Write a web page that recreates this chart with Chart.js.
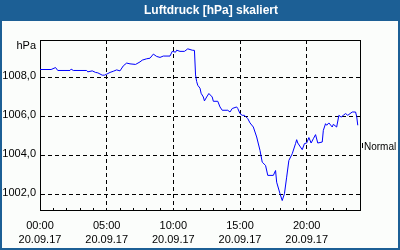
<!DOCTYPE html>
<html>
<head>
<meta charset="utf-8">
<script src="https://cdn.jsdelivr.net/npm/chart.js@4.4.1/dist/chart.umd.min.js"></script>
<style>
  html, body { margin: 0; padding: 0; background: #fbfdfb; }
  #chart { display: block; }
</style>
</head>
<body>
<canvas id="chart" width="400" height="250"></canvas>
<script>
// Luftdruck vom 20.09.17
const titel = 'Luftdruck [hPa] skaliert';
const datum = '20.09.17';

const zeiten = [
  '00:00', '00:50', '01:10', '01:20', '02:15', '02:20', '02:30', '03:30', '03:35', '03:55',
  '04:10', '04:20', '04:40', '04:50', '05:00', '05:15', '05:30', '05:45', '06:00', '06:15',
  '06:30', '06:45', '07:10', '07:30', '07:40', '08:00', '08:15', '08:30', '08:45', '09:00',
  '09:15', '09:45', '09:55', '10:10', '10:15', '10:30', '10:50', '11:05', '11:25', '11:35',
  '11:40', '11:45', '11:50', '12:00', '12:05', '12:15', '12:20', '12:30', '12:40', '12:55',
  '13:00', '13:20', '13:30', '13:40', '14:05', '14:15', '14:25', '14:45', '14:50', '15:00',
  '15:10', '15:20', '15:35', '15:45', '16:00', '16:15', '16:30', '16:40', '16:55', '17:05',
  '17:30', '17:40', '17:45', '18:00', '18:10', '18:20', '18:30', '18:40', '18:55', '19:10',
  '19:15', '19:20', '19:40', '19:50', '20:00', '20:10', '20:20', '20:30', '20:40', '20:50',
  '21:10', '21:15', '21:25', '21:30', '21:40', '21:55', '22:00', '22:15', '22:25', '22:35',
  '22:45', '22:55', '23:05', '23:25', '23:40', '23:45', '23:50'
];
const luftdruck = [
  1008.41, 1008.41, 1008.51, 1008.36, 1008.36, 1008.43, 1008.36, 1008.36, 1008.29, 1008.34,
  1008.26, 1008.24, 1008.12, 1008.12, 1008.17, 1008.26, 1008.32, 1008.39, 1008.34, 1008.60,
  1008.74, 1008.70, 1008.67, 1008.80, 1008.89, 1008.96, 1008.99, 1009.20, 1009.08, 1009.03,
  1009.10, 1009.10, 1009.34, 1009.30, 1009.40, 1009.34, 1009.34, 1009.47, 1009.40, 1009.39,
  1008.13, 1007.79, 1007.60, 1007.45, 1007.19, 1007.00, 1006.80, 1007.00, 1007.18, 1007.00,
  1006.78, 1006.78, 1006.49, 1006.32, 1006.32, 1006.23, 1006.41, 1006.49, 1006.41, 1006.15,
  1006.06, 1006.06, 1005.89, 1005.67, 1005.46, 1004.95, 1004.26, 1003.66, 1003.49, 1002.98,
  1002.98, 1003.23, 1002.63, 1002.04, 1001.69, 1002.04, 1002.89, 1003.75, 1004.09, 1004.61,
  1004.81, 1004.64, 1004.30, 1004.61, 1004.64, 1004.92, 1004.64, 1004.86, 1005.07, 1004.64,
  1004.69, 1005.29, 1005.63, 1005.55, 1005.67, 1005.46, 1005.60, 1005.46, 1006.06, 1005.97,
  1006.06, 1006.15, 1006.06, 1006.23, 1006.23, 1006.01, 1005.55
];

const yTicks = [1002, 1004, 1006, 1008];
const yMin = 1001.205;
const yMax = 1009.923;
const stunden = [0, 1, 2, 3, 4, 5, 6, 7, 8, 9, 10, 11, 12, 13, 14, 15, 16, 17, 18, 19, 20, 21, 22, 23, 24];
const labelStunden = [0, 5, 10, 15, 20];
const normalWert = 1004.5;

const blau = '#1c5f95';
const schrift = '"Liberation Sans", Arial, sans-serif';

// Zeit "hh:mm" -> Stunden als Zahl
const inStunden = t => {
  const [h, m] = t.split(':').map(Number);
  return h + m / 60;
};
const punkte = zeiten.map((t, i) => ({ x: inStunden(t), y: luftdruck[i] }));

// Rahmen, Titelleiste, "hPa" und "Normal"
const rahmenPlugin = {
  id: 'rahmen',
  beforeDraw(chart) {
    const { ctx, width, height } = chart;
    ctx.save();
    ctx.fillStyle = '#fbfdfb';
    ctx.fillRect(0, 0, width, height);
    ctx.fillStyle = blau;
    ctx.fillRect(0, 0, width, 21);
    ctx.fillRect(0, 0, 2, height);
    ctx.fillRect(width - 2, 0, 2, height);
    ctx.fillRect(0, height - 2, width, 2);
    ctx.fillStyle = '#ffffff';
    ctx.font = 'bold 12px ' + schrift;
    ctx.textAlign = 'center';
    ctx.textBaseline = 'middle';
    ctx.fillText(titel, 211, 10.5);
    ctx.restore();
  },
  afterDraw(chart) {
    const { ctx, chartArea: a, scales } = chart;
    ctx.save();
    ctx.strokeStyle = '#000';
    ctx.lineWidth = 1;
    ctx.beginPath();
    ctx.moveTo(a.left, a.top + 0.5);
    ctx.lineTo(a.right + 1, a.top + 0.5);
    ctx.moveTo(a.right + 0.5, a.top);
    ctx.lineTo(a.right + 0.5, a.bottom);
    ctx.stroke();

    ctx.fillStyle = '#000';
    ctx.font = '11px ' + schrift;
    ctx.textAlign = 'right';
    ctx.textBaseline = 'middle';
    ctx.fillText('hPa', a.left - 4, a.top + 6);

    const y = Math.round(scales.y.getPixelForValue(normalWert));
    ctx.beginPath();
    ctx.moveTo(a.right + 2.5, y - 3);
    ctx.lineTo(a.right + 2.5, y + 2);
    ctx.stroke();
    ctx.font = '10px ' + schrift;
    ctx.textAlign = 'left';
    ctx.fillText('Normal', a.right + 4, y + 1);
    ctx.restore();
  }
};

new Chart(document.getElementById('chart'), {
  type: 'line',
  data: {
    datasets: [{
      data: punkte,
      borderColor: '#0000ff',
      borderWidth: 1,
      pointRadius: 0,
      tension: 0,
      fill: false
    }]
  },
  options: {
    responsive: false,
    animation: false,
    devicePixelRatio: 1,
    layout: { padding: { top: 40, right: 40, bottom: 3, left: 0 } },
    plugins: {
      legend: { display: false },
      tooltip: { enabled: false },
      title: { display: false }
    },
    scales: {
      x: {
        type: 'linear',
        min: 0,
        max: 24,
        afterBuildTicks: scale => { scale.ticks = stunden.map(v => ({ value: v })); },
        afterFit: scale => { scale.height = 37; },
        grid: {
          color: c => (c.tick && labelStunden.includes(c.tick.value) && c.tick.value !== 0) ? '#000' : 'rgba(0,0,0,0)',
          tickColor: '#000',
          tickLength: -2,
          lineWidth: 1
        },
        border: { color: '#000', width: 1, dash: [4, 3] },
        ticks: {
          autoSkip: false,
          maxRotation: 0,
          padding: 11,
          color: '#000',
          font: { family: schrift, size: 11, lineHeight: '14px' },
          callback: v => labelStunden.includes(v)
            ? [String(v).padStart(2, '0') + ':00', datum]
            : ''
        }
      },
      y: {
        min: yMin,
        max: yMax,
        afterBuildTicks: scale => { scale.ticks = yTicks.map(v => ({ value: v })); },
        afterFit: scale => { scale.width = 40; },
        grid: { color: '#000', drawTicks: false, lineWidth: 1 },
        border: { color: '#000', width: 1, dash: [4, 3] },
        ticks: {
          padding: 4,
          labelOffset: -2,
          color: '#000',
          font: { family: schrift, size: 11 },
          callback: v => v.toFixed(1).replace('.', ',')
        }
      }
    }
  },
  plugins: [rahmenPlugin]
});
</script>
</body>
</html>
